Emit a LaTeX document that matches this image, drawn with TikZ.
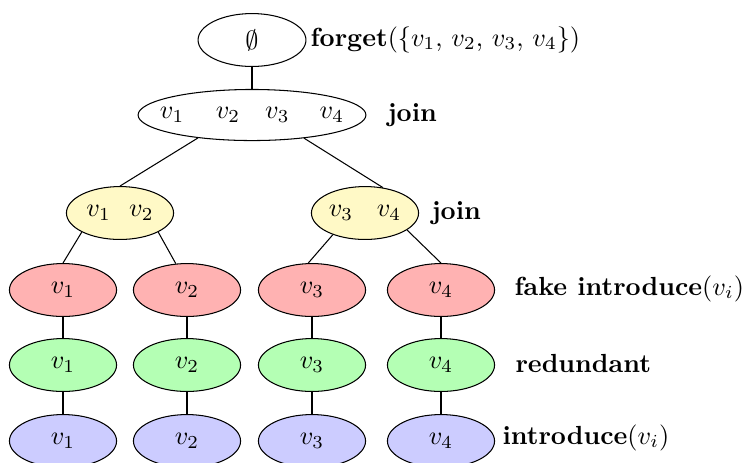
\documentclass[tikz,border=0pt]{standalone}
\usetikzlibrary{shapes.geometric}
\definecolor{ylw}{RGB}{255,249,198}
\definecolor{rd}{RGB}{255,178,178}
\definecolor{grn}{RGB}{180,255,180}
\definecolor{blu}{RGB}{204,204,255}
\begin{document}
\begin{tikzpicture}[x=0.3818pt,y=-0.3818pt,
  el/.style={draw, ellipse, inner sep=0pt, minimum width=40.9pt, minimum height=20.2pt},
  lab/.style={anchor=base west, inner sep=0pt}]
\useasboundingbox (0,0) rectangle (745,462);
% nodes
\node[el, minimum width=41.2pt] (root) at (252,40) {$\emptyset$};
\node[el, inner xsep=-6pt, minimum width=87pt, minimum height=19.5pt] (join) at (252,115)
  {$v_1\hspace{12pt}v_2\hspace{9.5pt}v_3\hspace{11.5pt}v_4$};
\node[el, fill=ylw] (y1) at (120,213) {$v_1\hspace{7pt}v_2$};
\node[el, fill=ylw] (y2) at (365,213) {$v_3\hspace{9pt}v_4$};
\foreach \i/\x in {1/63,2/187,3/312,4/441}{
  \node[el, fill=rd]  (r\i) at (\x,290) {$v_\i$};
  \node[el, fill=grn] (g\i) at (\x,365) {$v_\i$};
  \node[el, fill=blu] (b\i) at (\x,441) {$v_\i$};
}
% connectors
\draw (root) -- (join);
\draw (join.203) -- (y1.north);
\draw (join.336) -- (y2.55);
\draw (y1.south west) -- (r1.north);
\draw (y1.south east) -- (r2.113);
\draw (y2.214) -- (r3.98);
\draw (y2.338) -- (r4.north);
\foreach \i in {1,2,3,4}{
  \draw (r\i) -- (g\i);
  \draw (g\i) -- (b\i);
}
% labels
\node[lab] (lforget) at (310,46) {\textbf{forget}$(\{v_1$, $v_2$, $v_3$, $v_4\})$};
\node[lab] (ljoin1) at (387,121) {\textbf{join}};
\node[lab] (ljoin2) at (431,219) {\textbf{join}};
\node[lab] (lfake) at (514,295) {\textbf{fake introduce}$(v_i)$};
\node[lab] (lred) at (515,372) {\textbf{redundant}};
\node[lab] (lintro) at (502,444) {\textbf{introduce}$(v_i)$};
\end{tikzpicture}
\end{document}
